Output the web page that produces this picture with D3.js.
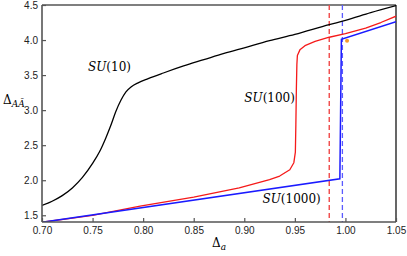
<!DOCTYPE html>
<html><head><meta charset="utf-8">
<script src="https://cdn.jsdelivr.net/npm/d3@7"></script>
<style>body{margin:0;background:#fff}svg{display:block}</style>
</head><body><svg id="c" width="407" height="256"></svg>
<script>
const xTicks = [0.70,0.75,0.80,0.85,0.90,0.95,1.00,1.05];
const yTicks = [1.5,2.0,2.5,3.0,3.5,4.0,4.5];
const su10X = [0.700,0.710,0.720,0.730,0.740,0.750,0.757,0.763,0.768,0.773,0.778,0.783,0.788,0.795,0.805,0.820,0.840,0.860,0.880,0.900,0.925,0.950,0.984,1.000,1.025,1.050];
const su10Y = [1.64,1.70,1.78,1.89,2.04,2.24,2.41,2.60,2.78,2.98,3.14,3.26,3.33,3.39,3.45,3.53,3.63,3.72,3.81,3.89,3.99,4.08,4.22,4.28,4.39,4.49];
const su100X = [0.700,0.750,0.797,0.850,0.895,0.925,0.935,0.945,0.949,0.9505,0.951,0.9515,0.952,0.9525,0.955,0.960,0.970,0.984,1.000,1.020,1.035,1.050];
const su100Y = [1.40,1.50,1.63,1.76,1.89,2.01,2.06,2.15,2.25,2.40,2.80,3.30,3.65,3.78,3.86,3.92,3.98,4.04,4.09,4.17,4.25,4.34];
const su1000X = [0.700,0.9945,0.996,1.050];
const su1000Y = [1.40,2.02,4.01,4.26];
const dashRedX = 0.984, dashBlueX = 0.997;
const dotX = 1.0016, dotY = 3.99;
const labels = [{t:"SU",n:"(10)",x:0.7455,y:3.56},{t:"SU",n:"(100)",x:0.9,y:3.12},{t:"SU",n:"(1000)",x:0.918,y:1.68}];

const svg = d3.select("#c");
const L=42,R=396,T=5,B=222;
const x = d3.scaleLinear().domain([0.70,1.05]).range([L,R]);
const y = d3.scaleLinear().domain([1.404,4.5]).range([B,T]);

const g = svg.append("g");
g.append("line").attr("x1",L).attr("x2",R).attr("y1",T).attr("y2",T).attr("stroke","#000").attr("stroke-width",1.2);
g.append("line").attr("x1",R).attr("x2",R).attr("y1",T).attr("y2",B).attr("stroke","#000").attr("stroke-width",1.2);

svg.append("clipPath").attr("id","cp").append("rect").attr("x",L).attr("y",T).attr("width",R-L).attr("height",B-T);
const pg = svg.append("g").attr("clip-path","url(#cp)");

pg.append("line").attr("x1",x(dashRedX)).attr("x2",x(dashRedX)).attr("y1",T).attr("y2",B).attr("stroke","#f04848").attr("stroke-width",1.4).attr("stroke-dasharray","5,3");
pg.append("line").attr("x1",x(dashBlueX)).attr("x2",x(dashBlueX)).attr("y1",T).attr("y2",B).attr("stroke","#5a5aff").attr("stroke-width",1.3).attr("stroke-dasharray","5,3");

const line = d3.line().x(d=>x(d[0])).y(d=>y(d[1]));
const zip=(a,b)=>a.map((v,i)=>[v,b[i]]);
pg.append("path").attr("d",d3.line().x(d=>x(d[0])).y(d=>y(d[1])).curve(d3.curveMonotoneX)(zip(su10X,su10Y))).attr("fill","none").attr("stroke","#000").attr("stroke-width",1.3);
pg.append("path").attr("d",line(zip(su100X,su100Y))).attr("fill","none").attr("stroke","#f51a1a").attr("stroke-width",1.3).attr("stroke-linejoin","round");
pg.append("path").attr("d",line(zip(su1000X,su1000Y))).attr("fill","none").attr("stroke","#1a1aff").attr("stroke-width",1.5);
pg.append("circle").attr("cx",x(dotX)).attr("cy",y(dotY)).attr("r",2).attr("fill","#f59a2a");

const axL = svg.append("g").attr("transform",`translate(${L},0)`).call(d3.axisLeft(y).tickValues(yTicks).tickFormat(d3.format(".1f")).tickSizeInner(-4).tickSizeOuter(0).tickPadding(4));
const axB = svg.append("g").attr("transform",`translate(0,${B})`).call(d3.axisBottom(x).tickValues(xTicks).tickFormat(d3.format(".2f")).tickSizeInner(-4).tickSizeOuter(0).tickPadding(5));
[axL,axB].forEach(a=>{
  a.select(".domain").attr("stroke","#555").attr("stroke-width",1.6);
  a.selectAll(".tick line").attr("stroke","#555").attr("stroke-width",1.2);
  a.selectAll("text").attr("fill","#222").style("font-family","Liberation Sans, Arial, sans-serif").style("font-size","10px");
});
axL.select(".domain").attr("d",`M0,${T}V${B}`);
axB.select(".domain").attr("d",`M${L},0H${R}`);

labels.forEach(l=>{
  const t = svg.append("text").attr("x",x(l.x)).attr("y",y(l.y)).style("font-family","DejaVu Serif, serif").style("font-size","12px").attr("fill","#000");
  t.append("tspan").attr("font-style","italic").text(l.t);
  t.append("tspan").text(l.n);
});
const yt = svg.append("text").attr("x",3).attr("y",104).style("font-family","DejaVu Serif, serif").style("font-size","12px");
yt.append("tspan").text("Δ");
yt.append("tspan").attr("dy",3).attr("font-style","italic").style("font-size","9px").text("AĀ");
const xt = svg.append("text").attr("x",(L+R)/2).attr("y",247).attr("text-anchor","middle").style("font-family","DejaVu Serif, serif").style("font-size","12px");
xt.append("tspan").text("Δ");
xt.append("tspan").attr("dy",3).attr("font-style","italic").style("font-size","9px").text("a");
</script></body></html>
